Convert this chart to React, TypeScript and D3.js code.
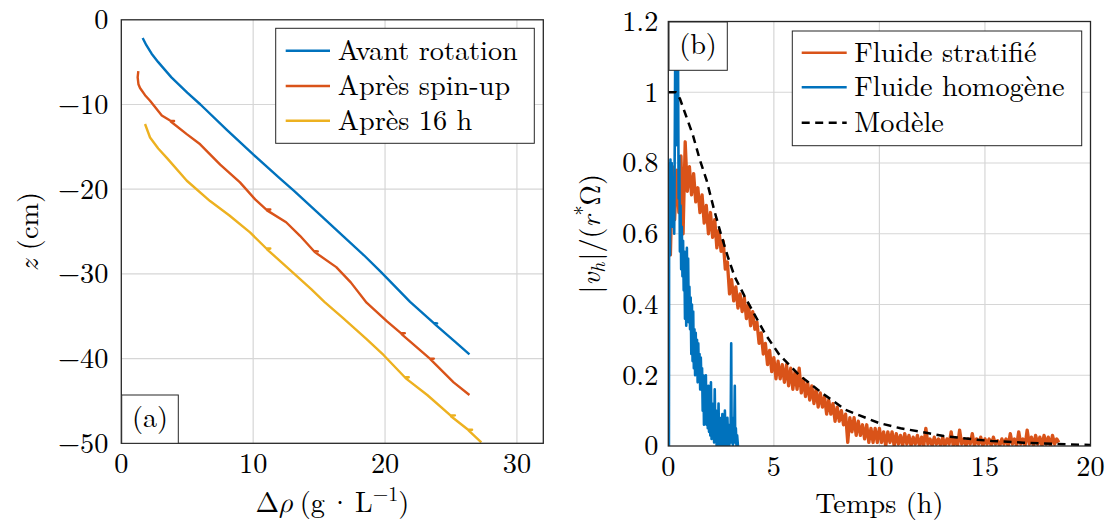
import React from "react";
import * as d3 from "d3";

const FONT = "'Latin Modern Roman', 'CMU Serif', 'Liberation Serif', 'DejaVu Serif', 'Noto Serif', 'FreeSerif', 'Times New Roman', Times, serif";
const GREEK_FONT = "'CMU Serif', 'Latin Modern Math', 'Latin Modern Roman', 'DejaVu Serif', serif";
const AXIS_COLOR = "#262626";
const GRID_COLOR = "#d6d6d6";
const BLUE = "#0072BD";
const ORANGE = "#D95319";
const YELLOW = "#EDB120";

// ---------- Panel (a): density profiles ----------
const avantRho = [1.62, 1.9, 2.3, 2.8, 3.8, 5.0, 6.0, 8.0, 10.0, 12.0, 13.1, 15.2, 16.8, 18.4, 19.7, 21.9, 23.7, 23.95, 23.75, 25.3, 26.4];
const avantZ = [-2.15, -3.0, -4.0, -5.0, -6.8, -8.6, -10.0, -13.0, -15.9, -18.7, -20.2, -23.2, -25.5, -27.8, -29.8, -33.3, -35.8, -35.85, -35.9, -38.0, -39.5];

const spinRho = [1.29, 1.24, 1.3, 1.42, 1.8, 2.18, 3.07, 3.7, 4.0, 3.75, 4.96, 5.98, 7.5, 9.0, 10.15, 11.0, 11.3, 11.05, 12.5, 13.55, 14.6, 14.9, 14.65, 16.3, 17.4, 18.6, 20.15, 21.2, 21.5, 21.25, 23.4, 23.7, 23.45, 25.2, 26.4];
const spinZ = [-6.07, -6.8, -7.6, -8.05, -8.9, -9.55, -11.3, -11.9, -11.95, -12.0, -13.5, -14.7, -17.1, -19.2, -21.2, -22.4, -22.4, -22.5, -23.9, -25.5, -27.3, -27.35, -27.4, -29.2, -31.0, -33.4, -35.6, -37.0, -37.0, -37.1, -40.0, -40.0, -40.1, -42.8, -44.3];

const apres16Rho = [1.8, 2.18, 2.8, 3.45, 4.97, 6.73, 8.2, 9.76, 11.0, 11.3, 11.05, 12.7, 14.4, 15.4, 16.8, 18.6, 19.9, 21.5, 21.8, 21.55, 23.2, 24.96, 25.3, 25.0, 26.3, 26.6, 26.35, 27.3];
const apres16Z = [-12.3, -13.9, -15.2, -16.3, -19.0, -21.4, -23.1, -25.1, -27.0, -27.0, -27.1, -29.4, -31.8, -33.3, -35.2, -37.7, -39.6, -42.2, -42.2, -42.3, -44.3, -46.7, -46.7, -46.8, -48.4, -48.4, -48.5, -49.9];

const legendA = ["Avant rotation", "Après spin-up", "Après 16 h"];
const xTicksA = [0, 10, 20, 30];
const yTicksA = [0, -10, -20, -30, -40, -50];

// ---------- Panel (b): velocity decay ----------
const STRAT_STEP = 0.1; // h between samples of the stratified record
const stratValues = [
  0.80, 0.54, 0.79, 0.64, 0.78, 0.66, 0.82, 0.60, 0.86, 0.72,
  0.79, 0.71, 0.77, 0.69, 0.73, 0.66, 0.71, 0.63, 0.68, 0.60,
  0.66, 0.59, 0.64, 0.56, 0.61, 0.55, 0.58, 0.50, 0.52, 0.43,
  0.47, 0.41, 0.45, 0.39, 0.43, 0.38, 0.42, 0.36, 0.40, 0.34,
  0.38, 0.33, 0.35, 0.29, 0.32, 0.26, 0.29, 0.23, 0.27, 0.21,
  0.25, 0.19, 0.24, 0.19, 0.23, 0.18, 0.23, 0.17, 0.22, 0.16,
  0.21, 0.16, 0.22, 0.15, 0.19, 0.14, 0.18, 0.13, 0.17, 0.12,
  0.16, 0.11, 0.15, 0.11, 0.14, 0.09, 0.13, 0.09, 0.12, 0.07,
  0.11, 0.07, 0.10, 0.06, 0.09, 0.01, 0.08, 0.04, 0.08, 0.03,
  0.07, 0.03, 0.06, 0.02, 0.06, 0.01, 0.05, 0.01, 0.05, 0.01,
  0.05, 0.01, 0.04, 0.00, 0.04, 0.01, 0.04, 0.00, 0.035, 0.005,
  0.03, 0.0, 0.035, 0.005, 0.03, 0.0, 0.025, 0.005, 0.03, 0.0,
  0.025, 0.0, 0.05, 0.005, 0.02, 0.0, 0.025, 0.005, 0.02, 0.0,
  0.025, 0.0, 0.02, 0.005, 0.04, 0.0, 0.02, 0.0, 0.045, 0.005,
  0.02, 0.0, 0.02, 0.005, 0.035, 0.0, 0.02, 0.005, 0.025, 0.0,
  0.02, 0.005, 0.02, 0.0, 0.025, 0.005, 0.015, 0.0, 0.02, 0.005,
  0.02, 0.0, 0.035, 0.005, 0.02, 0.0, 0.04, 0.005, 0.02, 0.0,
  0.045, 0.005, 0.025, 0.0, 0.03, 0.005, 0.025, 0.0, 0.03, 0.005,
  0.025, 0.0, 0.03, 0.005, 0.02, 0.01,
];

const homogeneSamples: [number, number][] = [
  [0, 0], [0.03, 0], [0.04, 0.79], [0.07, 0.8], [0.08, 0.54], [0.1, 0.81], [0.13, 0.66], [0.16, 0.8],
  [0.2, 0.62], [0.24, 0.76], [0.28, 0.6], [0.31, 0.9], [0.34, 1.25], [0.37, 0.85], [0.4, 1.25], [0.43, 0.9],
  [0.46, 1.1], [0.49, 0.7], [0.52, 0.82], [0.55, 0.55], [0.58, 0.68], [0.61, 0.5], [0.64, 0.62], [0.67, 0.48],
  [0.7, 0.58], [0.73, 0.44], [0.76, 0.55], [0.79, 0.36], [0.82, 0.5], [0.85, 0.34], [0.88, 0.56], [0.91, 0.37],
  [0.94, 0.53], [0.97, 0.35], [1.0, 0.45], [1.03, 0.33], [1.06, 0.42], [1.09, 0.26], [1.12, 0.4], [1.15, 0.24],
  [1.18, 0.38], [1.21, 0.22], [1.24, 0.33], [1.27, 0.2], [1.3, 0.32], [1.33, 0.21], [1.36, 0.3], [1.39, 0.18],
  [1.42, 0.29], [1.45, 0.2], [1.48, 0.26], [1.51, 0.16], [1.54, 0.25], [1.57, 0.18], [1.6, 0.22], [1.63, 0.1],
  [1.66, 0.2], [1.69, 0.06], [1.72, 0.19], [1.75, 0.08], [1.78, 0.2], [1.81, 0.06], [1.84, 0.16], [1.87, 0.05],
  [1.9, 0.17], [1.93, 0.04], [1.96, 0.14], [1.99, 0.03], [2.02, 0.18], [2.05, 0.02], [2.08, 0.12], [2.11, 0.03],
  [2.14, 0.11], [2.17, 0.01], [2.2, 0.16], [2.23, 0.02], [2.26, 0.1], [2.29, 0.0], [2.32, 0.09], [2.35, 0.02],
  [2.38, 0.12], [2.41, 0.0], [2.44, 0.08], [2.47, 0.01], [2.5, 0.07], [2.53, 0.0], [2.56, 0.09], [2.59, 0.01],
  [2.62, 0.05], [2.65, 0.0], [2.68, 0.1], [2.71, 0.02], [2.74, 0.06], [2.77, 0.0], [2.8, 0.08], [2.83, 0.02],
  [2.86, 0.06], [2.89, 0.0], [2.92, 0.05], [2.95, 0.01], [2.98, 0.29], [3.0, 0.02], [3.03, 0.08], [3.06, 0.0],
  [3.09, 0.06], [3.12, 0.02], [3.15, 0.17], [3.17, 0.01], [3.2, 0.05], [3.23, 0.0], [3.26, 0.03], [3.3, 0.0],
];

const modeleSamples: [number, number][] = [
  [0, 1], [0.35, 1], [0.55, 0.982], [0.8, 0.94], [1.16, 0.88], [1.49, 0.81], [1.82, 0.75], [2.16, 0.67],
  [2.49, 0.6], [2.82, 0.535], [3.14, 0.479], [3.6, 0.425], [4.1, 0.37], [4.6, 0.316], [5.27, 0.257],
  [5.82, 0.224], [6.21, 0.2], [7.3, 0.149], [8.4, 0.102], [9.98, 0.065], [11.0, 0.05], [11.9, 0.041],
  [12.34, 0.036], [13.05, 0.028], [13.84, 0.023], [14.6, 0.018], [15.33, 0.014], [16.09, 0.012],
  [16.82, 0.0095], [17.58, 0.0075], [18.32, 0.0057], [19.1, 0.004], [20, 0.003],
];

const legendB = ["Fluide stratifié", "Fluide homogène", "Modèle"];
const xTicksB = [0, 5, 10, 15, 20];
const yTicksB = [0, 0.2, 0.4, 0.6, 0.8, 1, 1.2];
const yTickLabelsB = ["0", "0.2", "0.4", "0.6", "0.8", "1", "1.2"];

// ---------- layout ----------
const A = { left: 121.3, right: 543.3, top: 19.8, bottom: 443.3 };
const B = { left: 668.3, right: 1090.5, top: 21.5, bottom: 446 };

const FS = 28.3;

export default function App() {
  const xA = d3.scaleLinear().domain([0, 32]).range([A.left, A.right]);
  const yA = d3.scaleLinear().domain([-50, 0]).range([A.bottom, A.top]);
  const xB = d3.scaleLinear().domain([0, 20]).range([B.left, B.right]);
  const yB = d3.scaleLinear().domain([0, 1.2]).range([B.bottom, B.top]);

  const lineA = d3.line<[number, number]>().x((d) => xA(d[0])).y((d) => yA(d[1]));
  const lineB = d3.line<[number, number]>().x((d) => xB(d[0])).y((d) => yB(d[1]));

  const seriesA = [
    { name: legendA[0], color: BLUE, pts: d3.zip(avantRho, avantZ) as [number, number][] },
    { name: legendA[1], color: ORANGE, pts: d3.zip(spinRho, spinZ) as [number, number][] },
    { name: legendA[2], color: YELLOW, pts: d3.zip(apres16Rho, apres16Z) as [number, number][] },
  ];

  const stratPts: [number, number][] = stratValues.map((v, i) => [i * STRAT_STEP, v]);

  const legA = { x: 275.7, y: 28.3, w: 258.6, h: 115, rows: [50.7, 86, 120.7] };
  const legB = { x: 792.3, y: 31, w: 289.4, h: 114.7, rows: [52.7, 87.3, 122.7] };

  const T = (props: any) => <text fontFamily={FONT} fontSize={FS} fill="#000" {...props} />;

  return (
    <svg
      width={1109}
      height={527}
      viewBox="0 0 1109 527"
      style={{ position: "absolute", left: 0, top: 0, background: "#fff" }}
    >
      <defs>
        <clipPath id="clipA">
          <rect x={A.left} y={A.top} width={A.right - A.left} height={A.bottom - A.top} />
        </clipPath>
        <clipPath id="clipB">
          <rect x={B.left} y={B.top} width={B.right - B.left} height={B.bottom - B.top} />
        </clipPath>
      </defs>
      <rect x={0} y={0} width={1109} height={527} fill="#fff" />

      {/* ---------------- Panel (a) ---------------- */}
      <g>
        {xTicksA.filter((t) => xA(t) > A.left + 1 && xA(t) < A.right - 1).map((t) => (
          <line key={"gxa" + t} x1={xA(t)} x2={xA(t)} y1={A.top} y2={A.bottom} stroke={GRID_COLOR} strokeWidth={1.2} />
        ))}
        {yTicksA.filter((t) => yA(t) > A.top + 1 && yA(t) < A.bottom - 1).map((t) => (
          <line key={"gya" + t} x1={A.left} x2={A.right} y1={yA(t)} y2={yA(t)} stroke={GRID_COLOR} strokeWidth={1.2} />
        ))}
        <g clipPath="url(#clipA)">
          {seriesA.map((s) => (
            <path key={s.name} d={lineA(s.pts) || ""} fill="none" stroke={s.color} strokeWidth={2.4} strokeLinejoin="round" />
          ))}
        </g>
        <rect x={A.left} y={A.top} width={A.right - A.left} height={A.bottom - A.top} fill="none" stroke={AXIS_COLOR} strokeWidth={1.3} />

        {xTicksA.map((t) => (
          <T key={"xla" + t} x={xA(t)} y={A.bottom + 29.5} textAnchor="middle">{String(t)}</T>
        ))}
        {yTicksA.map((t) => (
          <T key={"yla" + t} x={A.left - 13} y={yA(t) + 9.3} textAnchor="end">
            {t < 0 ? "\u2212" + Math.abs(t) : String(t)}
          </T>
        ))}

        <T x={(A.left + A.right) / 2} y={512} textAnchor="middle">
          {"Δ"}
          <tspan fontStyle="italic" fontFamily={GREEK_FONT}>ρ</tspan>
          <tspan dx={7}>{"(g"}</tspan>
          <tspan dx={4}>{"·"}</tspan>
          <tspan dx={4}>{"L"}</tspan>
          <tspan fontSize={20} dy={-11}>{"\u22121"}</tspan>
          <tspan dy={11}>{")"}</tspan>
        </T>
        <T transform={`translate(38, ${(A.top + A.bottom) / 2}) rotate(-90)`} textAnchor="middle">
          <tspan fontStyle="italic">z</tspan>
          {" (cm)"}
        </T>

        {/* legend (a) */}
        <rect x={legA.x} y={legA.y} width={legA.w} height={legA.h} fill="#fff" stroke={AXIS_COLOR} strokeWidth={1} />
        {seriesA.map((s, i) => (
          <g key={"lega" + i}>
            <line x1={285.7} x2={330} y1={legA.rows[i]} y2={legA.rows[i]} stroke={s.color} strokeWidth={2.4} />
            <T x={337.7} y={legA.rows[i] + 8.8}>{s.name}</T>
          </g>
        ))}

        {/* (a) label */}
        <rect x={121.7} y={395} width={56.6} height={48.3} fill="#fff" stroke={AXIS_COLOR} strokeWidth={1} />
        <T x={150} y={427} textAnchor="middle">(a)</T>
      </g>

      {/* ---------------- Panel (b) ---------------- */}
      <g>
        {xTicksB.filter((t) => xB(t) > B.left + 1 && xB(t) < B.right - 1).map((t) => (
          <line key={"gxb" + t} x1={xB(t)} x2={xB(t)} y1={B.top} y2={B.bottom} stroke={GRID_COLOR} strokeWidth={1.2} />
        ))}
        {yTicksB.filter((t) => yB(t) > B.top + 1 && yB(t) < B.bottom - 1).map((t) => (
          <line key={"gyb" + t} x1={B.left} x2={B.right} y1={yB(t)} y2={yB(t)} stroke={GRID_COLOR} strokeWidth={1.2} />
        ))}
        <g clipPath="url(#clipB)">
          <path d={lineB(stratPts) || ""} fill="none" stroke={ORANGE} strokeWidth={3.3} strokeLinejoin="round" />
          <path d={lineB(homogeneSamples) || ""} fill="none" stroke={BLUE} strokeWidth={2.6} strokeLinejoin="round" />
          <path d={lineB(modeleSamples) || ""} fill="none" stroke="#000" strokeWidth={2.5} strokeDasharray="8 5.5" />
        </g>
        <rect x={B.left} y={B.top} width={B.right - B.left} height={B.bottom - B.top} fill="none" stroke={AXIS_COLOR} strokeWidth={1.3} />

        {xTicksB.map((t) => (
          <T key={"xlb" + t} x={xB(t)} y={B.bottom + 29.5} textAnchor="middle">{String(t)}</T>
        ))}
        {yTicksB.map((t, i) => (
          <T key={"ylb" + t} x={B.left - 10} y={yB(t) + 9.3} textAnchor="end">{yTickLabelsB[i]}</T>
        ))}

        <T x={(B.left + B.right) / 2} y={513} textAnchor="middle">Temps (h)</T>
        <T transform={`translate(600, ${(B.top + B.bottom) / 2}) rotate(-90)`} textAnchor="middle">
          {"|"}
          <tspan fontStyle="italic">v</tspan>
          <tspan fontStyle="italic" fontSize={20} dy={5}>h</tspan>
          <tspan dy={-5} dx={2}>{"|/("}</tspan>
          <tspan fontStyle="italic">r</tspan>
          <tspan fontSize={20} dy={-11}>*</tspan>
          <tspan dy={11}>{"Ω)"}</tspan>
        </T>

        {/* legend (b) */}
        <rect x={legB.x} y={legB.y} width={legB.w} height={legB.h} fill="#fff" stroke={AXIS_COLOR} strokeWidth={1} />
        <line x1={801.7} x2={846.7} y1={legB.rows[0]} y2={legB.rows[0]} stroke={ORANGE} strokeWidth={2.4} />
        <line x1={801.7} x2={846.7} y1={legB.rows[1]} y2={legB.rows[1]} stroke={BLUE} strokeWidth={2.4} />
        <line x1={801.7} x2={846.7} y1={legB.rows[2]} y2={legB.rows[2]} stroke="#000" strokeWidth={2.5} strokeDasharray="8 5.5" />
        {legendB.map((name, i) => (
          <T key={"legb" + i} x={854.3} y={legB.rows[i] + 8.8}>{name}</T>
        ))}

        {/* (b) label */}
        <rect x={669} y={22} width={58.3} height={48.3} fill="#fff" stroke={AXIS_COLOR} strokeWidth={1} />
        <T x={698} y={54} textAnchor="middle">(b)</T>
      </g>
    </svg>
  );
}
